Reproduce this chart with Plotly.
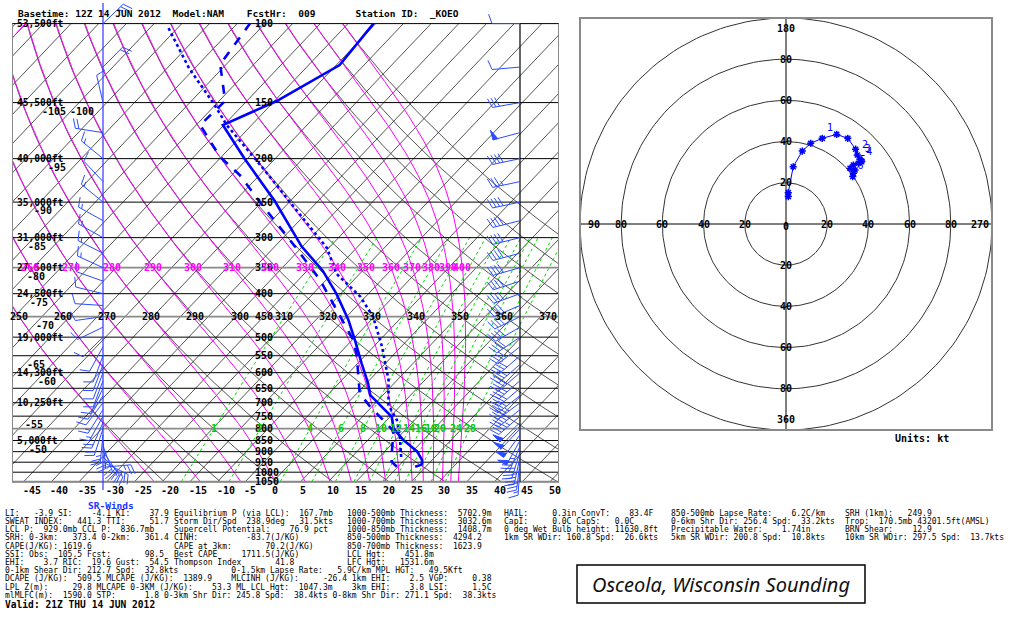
import numpy as np
import plotly.graph_objects as go

# ---------------- chart data ----------------
temp_p = [972.5, 962.0, 939.5, 898.6, 847.9, 798.5, 752.3, 708.4, 673.0, 633.8, 571.9, 507.4,
          458.0, 400.0, 355.5, 313.7, 248.6, 199.4, 168.3, 148.8, 123.7, 100.0]
temp_c = [23.1, 23.9, 23.2, 20.8, 16.4, 12.6, 10.3, 6.2, 2.7, 0.3, -4.3, -9.5,
          -14.1, -20.8, -27.2, -35.2, -47.8, -60.7, -70.2, -64.6, -59.4, -60.4]

dwpt_p = [972.5, 947.8, 908.6, 862.4, 833.7, 802.7, 765.2, 714.7, 667.2, 602.1, 548.1, 507.4,
          462.1, 372.7, 313.7, 249.5, 217.5, 198.0, 168.3, 148.8, 123.2, 100.0]
dwpt_c = [19.8, 18.0, 16.6, 15.0, 14.3, 12.5, 9.3, 4.7, 0.5, -3.2, -6.6, -9.8,
          -14.7, -26.1, -36.4, -50.4, -58.6, -65.3, -74.3, -73.9, -81.1, -82.7]

parcel_p = [925.0, 833.7, 765.2, 708.4, 622.6, 524.7, 450.4, 405.9, 361.0, 316.5, 249.9,
            209.9, 168.3, 151.1, 125.6, 101.0]
parcel_c = [18.9, 15.2, 11.8, 7.7, 3.4, -3.5, -10.2, -16.0, -24.2, -30.3, -44.9,
            -55.6, -69.5, -75.4, -86.1, -97.3]

wind_p = [975, 950, 925, 900, 875, 850, 825, 800, 775, 750, 725, 700, 675, 650, 625, 600,
          575, 550, 525, 500, 475, 450, 425, 400, 375, 350, 325, 300, 275, 250, 225, 200,
          175, 150, 125, 100]
wind_dir = [184, 187, 192, 197, 203, 209, 216, 223, 226, 229, 231, 233, 232, 230, 229, 229,
            229, 229, 232, 236, 240, 244, 247, 250, 252, 254, 255, 256, 256, 258, 258, 258,
            255, 260, 265, 270]
wind_spd = [14, 28, 36, 40, 45, 50, 50, 49, 48, 46, 44, 43, 42, 42, 41, 41,
            41, 41, 40, 40, 40, 40, 40, 40, 40, 40, 40, 40, 40, 38, 36, 38,
            50, 30, 12, 10]
storm_dir, storm_spd = 238.9, 31.5

hodo_u = [1.1, 1.1, 3.5, 7.9, 12.0, 17.6, 24.6, 30.0, 33.8, 34.6, 35.9, 36.7, 35.1, 32.7,
          31.1, 33.5, 32.7, 32.4]
hodo_v = [13.3, 15.2, 27.8, 35.4, 39.2, 41.6, 43.5, 41.6, 36.3, 33.5, 31.4, 30.2, 29.5, 28.6,
          27.0, 26.2, 24.6, 23.0]
hodo_lbl = ["", "", "", "", "", "1", "", "", "", "2", "3", "4", "", "", "", "5", "", "6"]
hodo_rings = [20, 40, 60, 80, 100]

iso_lab_t = [-105, -100, -95, -90, -85, -80, -75, -70, -65, -60, -55, -50]
iso_lab_p = [150, 150, 200, 250, 300, 350, 400, 450, 550, 600, 750, 850]
hgt_lab_p = [100, 150, 200, 250, 300, 350, 400, 500, 600, 700, 850]
hgt_lab = ["53,500ft", "45,500ft", "40,000ft", "35,000ft", "31,000ft", "27,500ft",
           "24,500ft", "19,000ft", "14,300ft", "10,250ft", "5,000ft"]
pres_levels = list(range(100, 1051, 50))
theta_levels = list(range(250, 401, 10))
theta_lab = list(range(250, 371, 10))
thetae_levels = list(range(250, 401, 10))
mix_levels = [1, 2, 4, 6, 8, 10, 12, 14, 16, 18, 20, 24, 28]
xtick_vals = list(range(-45, 51, 5))

# ---------------- geometry ----------------
W, H = 1024, 622
SK_L, SK_R = 12, 559
SK_T, SK_B = 23.6, 481.7
P_TOP, P_BOT = 100.0, 1050.0
T0_PX = 273.0
PXC = 5.54
PXL = (SK_B - SK_T) / np.log(P_BOT / P_TOP)
SKEW = 33.4
EXT_T, EXT_B = 2.0, 500.0
p_ext_top = P_TOP * np.exp((EXT_T - SK_T) / PXL)
p_ext_bot = P_TOP * np.exp((EXT_B - SK_T) / PXL)
x_range = [(SK_L - T0_PX) / PXC, (SK_R - T0_PX) / PXC]
SR_STAFF = (103 - T0_PX) / PXC
GR_STAFF = (520 - T0_PX) / PXC
PLAB_X = (253 - T0_PX) / PXC


def skx(t, p):
    return np.asarray(t, float) + SKEW * np.log(P_BOT / np.asarray(p, float))


def nb(s):
    return s.replace(" ", "\u00a0")


fig = go.Figure()


def multiline(xs, ys, color, width, dash="solid", xaxis="x", yaxis="y"):
    X, Y = [], []
    for a, b in zip(xs, ys):
        X += list(a) + [None]
        Y += list(b) + [None]
    fig.add_trace(go.Scatter(x=X, y=Y, mode="lines", line=dict(color=color, width=width, dash=dash),
                             hoverinfo="skip", showlegend=False, xaxis=xaxis, yaxis=yaxis))


# isotherms
xs, ys = [], []
for t in range(-130, 55, 5):
    xs.append([skx(t, P_BOT), skx(t, P_TOP)])
    ys.append([P_BOT, P_TOP])
multiline(xs, ys, "#2a2a2a", 0.8)

# dry adiabats
pg = np.geomspace(P_BOT, P_TOP, 80)
xs, ys = [], []
for th in theta_levels:
    t = th * (pg / 1000.0) ** 0.2857 - 273.15
    xs.append(skx(t, pg)); ys.append(pg)
multiline(xs, ys, "#2a2a2a", 0.8)


# moist adiabats (pseudo, labelled by theta-e)
def thetae_sat(Tk, p):
    Tc = Tk - 273.15
    es = 6.112 * np.exp(17.67 * Tc / (Tc + 243.5))
    r = 621.97 * es / np.maximum(p - es, 1e-3)
    return Tk * (1000.0 / p) ** (0.2854 * (1 - 0.00028 * r)) * np.exp(
        (3.376 / Tk - 0.00254) * r * (1 + 0.00081 * r))


def moist_t(the, p):
    p = np.asarray(p, float)
    lo = np.full_like(p, 150.0)
    lnr = np.log(0.5 * p / 6.112)
    hi = np.minimum(243.5 * lnr / (17.67 - lnr) + 273.15, 340.0)
    for _ in range(60):
        mid = 0.5 * (lo + hi)
        f = thetae_sat(mid, p) - the
        hi = np.where(f > 0, mid, hi)
        lo = np.where(f > 0, lo, mid)
    return 0.5 * (lo + hi) - 273.15


xs, ys = [], []
for te in thetae_levels:
    t = moist_t(te, pg)
    xs.append(skx(t, pg)); ys.append(pg)
multiline(xs, ys, "#ff00ff", 1.0)

# mixing ratio lines
pm = np.geomspace(P_BOT, 300.0, 40)


def td_from_w(w, p):
    e = w * p / (622.0 + w)
    l = np.log(e / 6.112)
    return 243.5 * l / (17.67 - l)


xs, ys = [], []
for w in mix_levels:
    xs.append(skx(td_from_w(w, pm), pm)); ys.append(pm)
multiline(xs, ys, "#00dd00", 1.0, dash="dot")

# isobars
xs, ys = [], []
for p in pres_levels:
    if p in (350, 450, 800):
        continue
    xs.append(x_range); ys.append([p, p])
multiline(xs, ys, "#000000", 1.0)
multiline([x_range, x_range, x_range], [[350, 350], [450, 450], [800, 800]], "#8a8a8a", 1.8)

# frame
multiline([[x_range[0], x_range[0]], [x_range[1], x_range[1]], x_range],
          [[P_TOP, P_BOT], [P_TOP, P_BOT], [P_BOT, P_BOT]], "#8a8a8a", 2)

# staffs
pstaff_top = P_TOP * np.exp((3 - SK_T) / PXL)
pstaff_bot = P_TOP * np.exp((490 - SK_T) / PXL)
multiline([[SR_STAFF, SR_STAFF]], [[pstaff_top, pstaff_bot]], "#3333ff", 1.2)
multiline([[GR_STAFF, GR_STAFF]], [[P_TOP, P_BOT]], "#000000", 1.2)

# profiles
fig.add_trace(go.Scatter(x=skx(parcel_c, parcel_p), y=parcel_p, mode="lines",
                         line=dict(color="#0000ff", width=2.6, dash="dot"), hoverinfo="skip", showlegend=False))
fig.add_trace(go.Scatter(x=skx(dwpt_c, dwpt_p), y=dwpt_p, mode="lines",
                         line=dict(color="#0000ff", width=2.6, dash="dash"), hoverinfo="skip", showlegend=False))
fig.add_trace(go.Scatter(x=skx(temp_c, temp_p), y=temp_p, mode="lines",
                         line=dict(color="#0000ff", width=2.6), hoverinfo="skip", showlegend=False))


# wind barbs
def barb_geom(x0, p0, d, s, L=28.0, F=10.0, gap=3.6, fw=5.0):
    r = np.radians(d)
    ux, uy = np.sin(r), np.cos(r)
    nx, ny = uy, -ux

    def pt(a, b):
        dx = a * ux + b * nx
        dy = a * uy + b * ny
        return x0 + dx / PXC, p0 * np.exp(-dy / PXL)

    lx, ly, fx, fy = [], [], [], []

    def seg(a0, b0, a1, b1):
        X0, Y0 = pt(a0, b0)
        X1, Y1 = pt(a1, b1)
        lx.extend([X0, X1, None]); ly.extend([Y0, Y1, None])

    seg(0, 0, L, 0)
    sr = int(5 * round(s / 5.0))
    nflag = sr // 50
    rem = sr - 50 * nflag
    nfull = rem // 10
    nhalf = (rem - 10 * nfull) // 5
    pos = L
    for _ in range(nflag):
        for (a, b) in [(pos, 0), (pos - fw, 0), (pos, F), (pos, 0)]:
            X, Y = pt(a, b)
            fx.append(X); fy.append(Y)
        fx.append(None); fy.append(None)
        pos -= fw + 1.5
    for _ in range(nfull):
        seg(pos, 0, pos + 0.34 * F, 0.94 * F)
        pos -= gap
    if nhalf:
        if nflag == 0 and nfull == 0:
            pos -= gap
        seg(pos, 0, pos + 0.17 * F, 0.47 * F)
    return lx, ly, fx, fy


def add_barbs(x0, ps, ds, ss, color):
    LX, LY, FX, FY = [], [], [], []
    for p, d, s in zip(ps, ds, ss):
        a, b, c, e = barb_geom(x0, p, d, s)
        LX += a; LY += b; FX += c; FY += e
    fig.add_trace(go.Scatter(x=LX, y=LY, mode="lines", line=dict(color=color, width=1),
                             hoverinfo="skip", showlegend=False))
    if FX:
        fig.add_trace(go.Scatter(x=FX, y=FY, mode="lines", fill="toself", fillcolor=color,
                                 line=dict(color=color, width=1), hoverinfo="skip", showlegend=False))


add_barbs(GR_STAFF, wind_p, wind_dir, wind_spd, "#2b4cff")

su = -storm_spd * np.sin(np.radians(storm_dir))
sv = -storm_spd * np.cos(np.radians(storm_dir))
wu = -np.array(wind_spd) * np.sin(np.radians(wind_dir))
wv = -np.array(wind_spd) * np.cos(np.radians(wind_dir))
sr_u, sr_v = wu - su, wv - sv
sr_spd = np.hypot(sr_u, sr_v)
sr_dir = np.degrees(np.arctan2(-sr_u, -sr_v)) % 360
add_barbs(SR_STAFF, wind_p, sr_dir, sr_spd, "#2b4cff")

# ---------------- hodograph ----------------
ang = np.linspace(0, 2 * np.pi, 200)
multiline([r * np.cos(ang) for r in hodo_rings], [r * np.sin(ang) for r in hodo_rings],
          "#333333", 1.0, xaxis="x2", yaxis="y2")
multiline([[-100, 100], [0, 0]], [[0, 0], [-100, 100]], "#000000", 1.0, xaxis="x2", yaxis="y2")
fig.add_trace(go.Scatter(x=hodo_u, y=hodo_v, mode="lines+markers+text", text=hodo_lbl,
                         textposition="top right", textfont=dict(color="#0000ff", size=10, family="DejaVu Sans Mono"),
                         line=dict(color="#0000ff", width=1),
                         marker=dict(symbol="asterisk-open", size=6, color="#0000ff", line=dict(width=1.5, color="#0000ff")),
                         hoverinfo="skip", showlegend=False, xaxis="x2", yaxis="y2"))

# ---------------- annotations ----------------
ann = []
MONO = "DejaVu Sans Mono"


def A(x, y, text, xref="x", yref="y", size=10, color="#000000", xanchor="center", yanchor="middle",
      bold=True, xshift=0, yshift=0, family=MONO):
    t = nb(text)
    if bold:
        t = "<b>" + t + "</b>"
    ann.append(dict(x=x, y=y, xref=xref, yref=yref, text=t, showarrow=False, xanchor=xanchor, yanchor=yanchor,
                    font=dict(size=size, color=color, family=family), xshift=xshift, yshift=yshift))


def P(px, py, text, **kw):
    A(px / W, 1 - py / H, text, xref="paper", yref="paper", **kw)


# x tick labels
for t in xtick_vals:
    A(t, np.log10(P_BOT), str(t), xanchor="left", yanchor="top", xshift=-3, yshift=-1)
# pressure labels
for p in pres_levels:
    A(PLAB_X, np.log10(p), str(p), xanchor="left")
# height labels
for p, s in zip(hgt_lab_p, hgt_lab):
    A(x_range[0], np.log10(p), s, xanchor="left", xshift=3, size=9.6)
# isotherm labels
for t, p in zip(iso_lab_t, iso_lab_p):
    A(float(skx(t, p)), np.log10(p), str(t), yanchor="top", xshift=3, yshift=-1)
# dry adiabat labels at 450 hPa
for th in theta_lab:
    t = th * (450 / 1000.0) ** 0.2857 - 273.15
    A(float(skx(t, 450)), np.log10(450), str(th))
# theta-e labels at 350 hPa
for te in thetae_levels:
    xv = float(skx(moist_t(te, np.array([350.0]))[0], 350))
    if x_range[0] + 1 < xv < x_range[1] - 1:
        A(xv, np.log10(350), str(te), color="#ff00ff")
# mixing ratio labels at 800 hPa
for w in mix_levels:
    A(float(skx(td_from_w(w, 800.0), 800.0)), np.log10(800), str(w), color="#00cc00")

# hodograph labels
for r in [20, 40, 60, 80]:
    for sgn in (1, -1):
        A(0, sgn * r, str(r), xref="x2", yref="y2")
        A(sgn * r, 0, str(r), xref="x2", yref="y2")
A(0, 0, "0", xref="x2", yref="y2", yshift=-2)
A(0, 100, "180", xref="x2", yref="y2", yanchor="top", yshift=-3)
A(0, -100, "360", xref="x2", yref="y2", yanchor="bottom", yshift=3)
A(-100, 0, "90", xref="x2", yref="y2", xanchor="left", xshift=6)
A(100, 0, "270", xref="x2", yref="y2", xanchor="right", xshift=-1)
P(893, 438, "Units: kt", xanchor="left", size=10)

# header
P(16, 14, "Basetime: 12Z 14 JUN 2012  Model:NAM    FcstHr:  009       Station ID:  _KOEO",
  xanchor="left", size=9.5)

# SR-winds label
P(86, 505, "SR-Winds", xanchor="left", size=9.5, color="#1a33ff")

# stats block
cols = [3, 172, 345, 501.7, 669, 843]
rows = [
    ["LI:   -3.9 SI:    -4.1 KI:    37.9", "Equilibrium P (via LCL):  167.7mb", "1000-500mb Thickness:  5702.9m",
     "HAIL:     0.3in ConvT:    83.4F", "850-500mb Lapse Rate:    6.2C/km", "SRH (1km):   249.9"],
    ["SWEAT INDEX:   441.3 TTI:     51.7", "Storm Dir/Spd  238.9deg   31.5kts", "1000-700mb Thickness:  3032.6m",
     "CapI:     0.0C CapS:   0.0C", "0-6km Shr Dir: 256.4 Spd:  33.2kts", "Trop:  170.5mb 43201.5ft(AMSL)"],
    ["LCL P:  929.0mb CCL P:  836.7mb", "Supercell Potential:    76.9 pct", "1000-850mb Thickness:  1408.7m",
     "0 deg Wet Bulb height: 11630.8ft", "Precipitable Water:    1.74in", "BRN Shear:    12.9"],
    ["SRH: 0-3km:   373.4 0-2km:   361.4", "CINH:          -83.7(J/KG)", "850-500mb Thickness:  4294.2",
     "1km SR WDir: 160.8 Spd:  26.6kts", "5km SR WDir: 200.8 Spd:  10.8kts", "10km SR WDir: 297.5 Spd:  13.7kts"],
    ["CAPE(J/KG): 1619.6", "CAPE at 3km:       70.2(J/KG)", "850-700mb Thickness:  1623.9"],
    ["SSI: Obs:  105.5 Fcst:       98.5", "Best CAPE     1711.5(J/KG)", "LCL Hgt:    451.8m"],
    ["EHI:    3.7 RIC:  19.6 Gust:  54.5", "Thompson Index       41.8", "LFC Hgt:   1531.6m"],
    ["0-1km Shear Dir: 212.7 Spd:  32.8kts           0-1.5km Lapse Rate:   5.9C/km MPL HGT:   49.5Kft"],
    ["DCAPE (J/KG):  509.5 MLCAPE (J/KG):  1389.9    MLCINH (J/KG):     -26.4 1km EHI:    2.5 VGP:     0.38"],
    ["LPL Z(m):     29.8 MLCAPE 0-3KM (J/KG):    53.3 ML LCL Hgt:  1047.3m    3km EHI:    3.8 LSI:     1.5C"],
    ["mlMLFC(m):  1590.0 STP:      1.8 0-3km Shr Dir: 245.8 Spd:  38.4kts 0-8km Shr Dir: 271.1 Spd:  38.3kts"],
]
for i, row in enumerate(rows):
    y = 513.3 + 8.2 * i
    for j, s in enumerate(row):
        P(cols[j], y, s, xanchor="left", size=8.0, bold=False)
P(3, 604, "Valid: 21Z THU 14 JUN 2012", xanchor="left", size=9.6)

# title box
P(721, 584, "<i>Osceola, Wisconsin Sounding</i>", size=20, bold=False, family="Noto Sans", color="#111111")

shapes = [
    dict(type="rect", xref="paper", yref="paper", x0=580 / W, x1=992 / W, y0=1 - 430 / H, y1=1 - 18 / H,
         line=dict(color="#8a8a8a", width=2)),
    dict(type="rect", xref="paper", yref="paper", x0=577 / W, x1=865 / W, y0=1 - 603 / H, y1=1 - 565 / H,
         line=dict(color="#000000", width=1.5)),
]

fig.update_layout(
    width=W, height=H, margin=dict(l=0, r=0, t=0, b=0),
    paper_bgcolor="white", plot_bgcolor="white", showlegend=False,
    xaxis=dict(domain=[SK_L / W, SK_R / W], range=x_range, visible=False),
    yaxis=dict(type="log", domain=[1 - EXT_B / H, 1 - EXT_T / H],
               range=[np.log10(p_ext_bot), np.log10(p_ext_top)], visible=False),
    xaxis2=dict(domain=[580 / W, 992 / W], range=[-100, 100], visible=False),
    yaxis2=dict(domain=[1 - 430 / H, 1 - 18 / H], range=[-100, 100], visible=False),
    annotations=ann, shapes=shapes,
)

fig.write_html("out.html", config={"displayModeBar": False},
               post_script="document.body.style.margin='0px';document.body.style.overflow='hidden';")
